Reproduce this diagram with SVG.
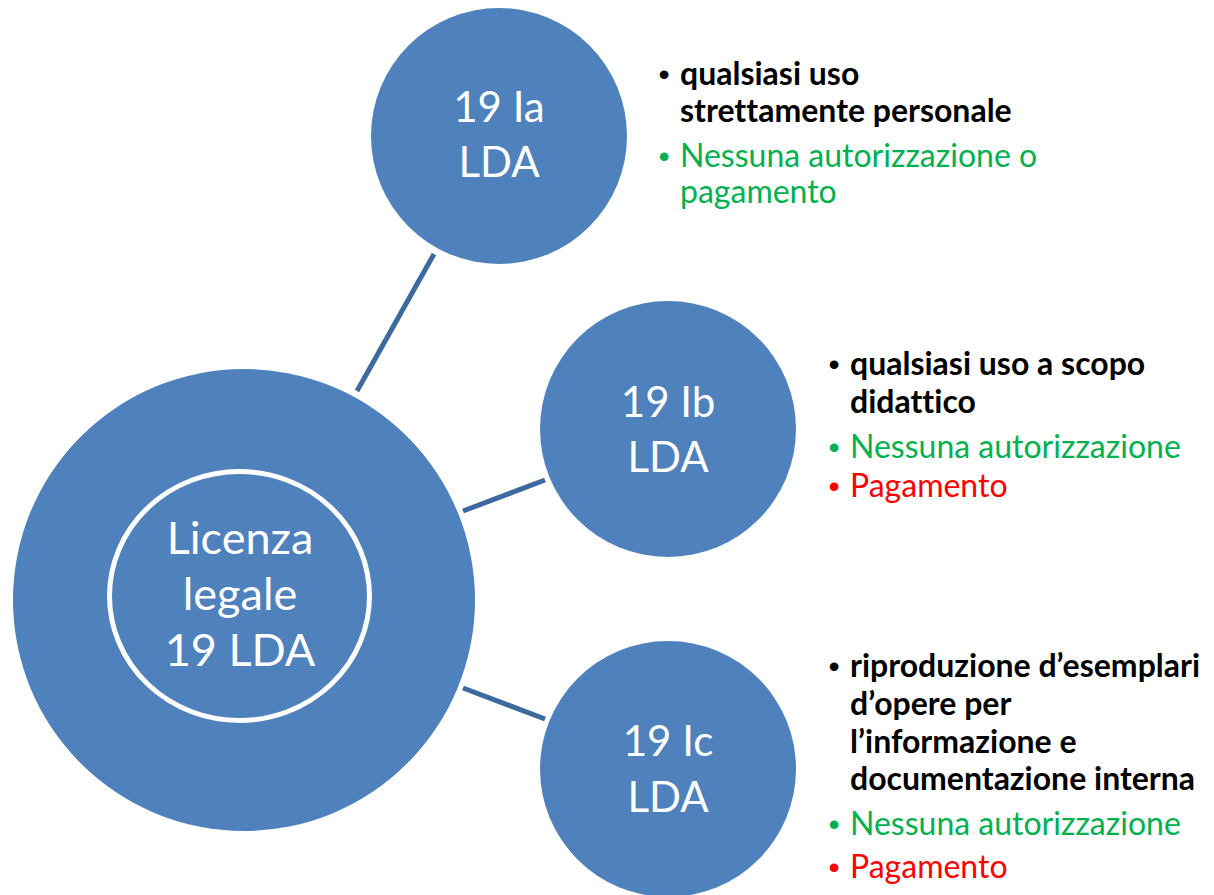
<svg xmlns="http://www.w3.org/2000/svg" width="1214" height="895" viewBox="0 0 1214 895">
  <style>
    .node { fill: #4F81BD; }
    .conn { stroke: #3D6A9E; stroke-width: 5; fill: none; }
    .ctext { font-family: Lato, "Open Sans", sans-serif; fill: #FFFFFF; text-anchor: middle; font-variant-ligatures: none; }
    .small { font-size: 42px; }
    .big { font-size: 45px; }
    .item { font-family: Lato, "Open Sans", sans-serif; font-size: 32px; font-variant-ligatures: none; }
    .b { font-weight: bold; fill: #000000; }
    .g { fill: #00B050; }
    .r { fill: #FF0000; }
    .dot { text-anchor: middle; font-family: "Liberation Sans", Arial, sans-serif; font-weight: normal; }
  </style>
  <rect width="1214" height="895" fill="#FFFFFF"/>
  <g id="connectors">
    <line class="conn" x1="357" y1="391" x2="434" y2="254"/>
    <line class="conn" x1="463" y1="511" x2="545" y2="480"/>
    <line class="conn" x1="463" y1="688" x2="545" y2="719"/>
  </g>
  <g id="node-center">
    <circle class="node" cx="244" cy="600" r="231"/>
    <ellipse cx="239.5" cy="596" rx="130" ry="124.5" fill="none" stroke="#FFFFFF" stroke-width="5"/>
    <text class="ctext big" x="240" y="554">Licenza</text>
    <text class="ctext big" x="240" y="610">legale</text>
    <text class="ctext big" x="240" y="666">19 LDA</text>
  </g>
  <g id="node-19Ia">
    <circle class="node" cx="499" cy="136" r="128"/>
    <text class="ctext small" x="499" y="122">19 Ia</text>
    <text class="ctext small" x="499" y="177">LDA</text>
  </g>
  <g id="node-19Ib">
    <circle class="node" cx="668" cy="429" r="128"/>
    <text class="ctext small" x="668" y="417">19 Ib</text>
    <text class="ctext small" x="668" y="472">LDA</text>
  </g>
  <g id="node-19Ic">
    <circle class="node" cx="668" cy="769" r="128"/>
    <text class="ctext small" x="668" y="756">19 Ic</text>
    <text class="ctext small" x="668" y="812">LDA</text>
  </g>
  <g id="text-19Ia">
    <text class="item b dot" x="664" y="85">•</text>
    <text class="item b" x="680" y="85">qualsiasi uso</text>
    <text class="item b" x="680" y="122">strettamente personale</text>
    <text class="item g dot" x="664" y="167">•</text>
    <text class="item g" x="680" y="167">Nessuna autorizzazione o</text>
    <text class="item g" x="680" y="203">pagamento</text>
  </g>
  <g id="text-19Ib">
    <text class="item b dot" x="834" y="375">•</text>
    <text class="item b" x="850" y="375">qualsiasi uso a scopo</text>
    <text class="item b" x="850" y="413">didattico</text>
    <text class="item g dot" x="834" y="458">•</text>
    <text class="item g" x="850" y="458">Nessuna autorizzazione</text>
    <text class="item r dot" x="834" y="497">•</text>
    <text class="item r" x="850" y="497">Pagamento</text>
  </g>
  <g id="text-19Ic">
    <text class="item b dot" x="834" y="677">•</text>
    <text class="item b" x="850" y="677">riproduzione d’esemplari</text>
    <text class="item b" x="850" y="715">d’opere per</text>
    <text class="item b" x="850" y="753">l’informazione e</text>
    <text class="item b" x="850" y="790">documentazione interna</text>
    <text class="item g dot" x="834" y="835">•</text>
    <text class="item g" x="850" y="835">Nessuna autorizzazione</text>
    <text class="item r dot" x="834" y="878">•</text>
    <text class="item r" x="850" y="878">Pagamento</text>
  </g>
</svg>
